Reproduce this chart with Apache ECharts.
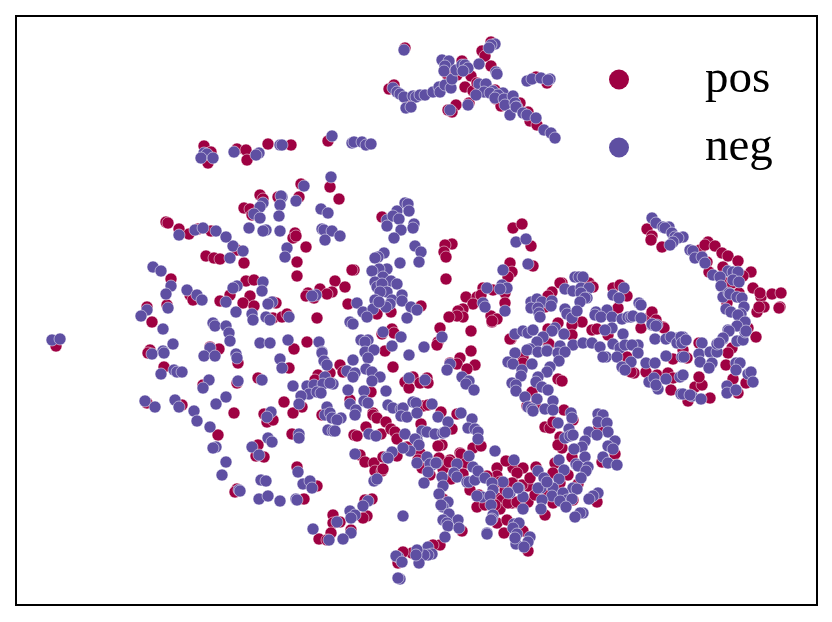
<!DOCTYPE html>
<html>
<head>
<meta charset="utf-8">
<script src="https://cdn.jsdelivr.net/npm/echarts@6/dist/echarts.min.js"></script>
<style>
html, body { margin: 0; padding: 0; background: #fff; }
#main { width: 832px; height: 622px; }
</style>
</head>
<body>
<div id="main"></div>
<script>
var seriesNames = ['pos', 'neg'];

// values
var posPoints = [
[204,146],[211,152],[208,163],[237,149],[246,150],[247,160],[268,144],[291,145],[328,141],[405,48],[389,89],[394,85],[408,102],[409,103],
[456,105],[452,112],[448,110],[469,103],[462,61],[447,74],[453,70],[471,76],[457,75],[465,87],[473,91],[477,83],[495,90],[496,99],[501,106],
[520,103],[528,112],[530,121],[537,125],[491,42],[482,51],[485,56],[491,66],[536,77],[547,83],[301,184],[330,187],[339,199],
[260,195],[263,199],[278,197],[299,197],[244,208],[250,209],[252,215],[295,233],[293,238],[296,236],[306,247],[237,250],[244,263],[297,262],[297,276],
[246,281],[254,280],[230,295],[250,296],[243,303],[254,306],[273,302],[276,303],[273,318],[282,317],[287,314],[354,270],[352,270],
[335,281],[345,287],[320,289],[332,292],[327,294],[308,293],[306,296],[314,298],[317,318],[382,217],[348,304],[391,312],[377,314],[421,306],
[166,222],[168,223],[179,229],[189,234],[198,229],[211,231],[206,256],[214,258],[220,259],[171,279],[190,295],[193,300],[220,301],[167,305],[147,307],[152,322],[210,347],[219,349],[150,350],[56,346],
[148,353],[294,349],[307,342],[238,363],[289,368],[164,367],[258,378],[237,383],[203,385],[318,375],[315,380],[284,402],[302,407],[293,413],[147,403],[182,405],[234,413],[322,415],[264,414],[267,422],[273,420],
[218,435],[292,434],[258,445],[256,456],[264,457],[297,467],[317,486],[237,489],[235,492],[304,499],[360,455],[365,462],[374,463],[375,471],[382,471],[383,457],[372,499],[365,500],[367,516],[363,518],[333,515],[340,522],[333,523],[331,533],[351,530],[319,539],[327,540],
[392,329],[394,333],[382,334],[385,351],[440,328],[438,342],[437,345],[471,331],[471,351],[492,322],[340,365],[343,372],[393,367],[450,363],[460,358],[457,364],[475,365],[467,369],
[413,377],[405,382],[409,388],[427,378],[420,383],[428,383],[330,373],[371,392],[350,400],[423,406],[428,405],[441,412],[373,413],[373,415],[377,418],[386,422],[354,435],[357,436],[366,427],[381,434],
[391,429],[395,432],[397,439],[421,424],[452,429],[457,414],[473,448],[481,446],[460,453],[450,460],[442,445],[438,446],[407,447],[397,456],[383,469],[420,453],[418,460],[438,460],[443,468],[497,468],[513,468],[511,339],[523,357],
[513,228],[522,224],[531,246],[452,244],[445,245],[444,252],[446,257],[446,279],[510,263],[533,266],[512,272],[508,277],[483,288],[493,290],[505,293],[466,297],[477,297],[481,295],[473,304],[505,303],
[463,309],[458,311],[463,317],[457,316],[449,317],[491,316],[497,319],[492,321],[510,339],[552,292],[548,296],[545,307],[562,283],[560,283],[589,283],[593,287],[613,288],[620,285],[627,296],[618,308],
[582,322],[572,325],[558,323],[592,330],[597,329],[608,335],[548,329],[572,335],[548,343],[641,328],[663,327],[683,350],[549,344],[523,363],[558,379],[562,381],[532,392],[527,406],[535,405],[564,410],
[627,357],[634,373],[631,372],[646,372],[673,359],[687,358],[657,375],[668,373],[673,378],[671,390],[688,401],[695,387],[702,385],[710,398],[699,377],[756,337],[732,348],[728,353],[726,365],[733,379],[746,383],[738,393],
[573,420],[545,427],[550,428],[553,422],[560,437],[599,427],[562,448],[572,457],[615,454],[602,462],[555,463],[523,468],[517,473],[536,467],[553,473],[568,475],[578,484],[560,483],[528,486],[522,485],[513,483],[553,503],[573,500],[528,502],[518,503],[545,515],[512,503],[597,502],
[422,468],[430,475],[439,458],[443,469],[449,462],[461,454],[466,463],[451,479],[506,461],[497,476],[512,483],[500,482],[479,495],[477,507],[497,498],[502,500],[500,509],[508,503],[517,502],
[487,476],[505,490],[495,505],[530,478],[548,495],[470,490],[463,474],[485,505],[535,495],[558,445],
[443,499],[462,531],[440,545],[433,545],[412,553],[403,552],[398,563],[497,523],[504,533],[507,520],[523,531],[528,551],
[647,229],[652,236],[651,240],[662,247],[700,250],[708,242],[705,245],[715,246],[722,253],[728,256],[738,261],[707,262],[723,267],[751,272],[709,272],[743,276],[727,283],[732,283],[739,293],[753,288],[761,297],[760,293],[772,294],[781,293],[764,307],[757,312],[759,307],[780,307],[779,308],[727,303],[748,328],[699,343],
[650,317],[652,312],[656,320],[664,328]
];

var negPoints = [
[204,153],[207,154],[201,158],[213,158],[234,152],[259,153],[256,155],[280,145],[282,145],[332,136],[352,143],[354,142],[362,142],[366,145],[371,144],[404,50],
[393,88],[397,92],[400,94],[404,97],[413,96],[416,97],[420,95],[425,95],[433,92],[439,87],[440,92],[445,85],[451,88],[452,79],[406,108],[411,107],[450,110],[468,105],
[442,60],[449,61],[445,66],[444,71],[456,70],[462,65],[465,65],[468,68],[463,71],[479,84],[486,84],[484,92],[476,95],[493,91],[490,93],[503,93],[498,95],[495,98],[504,99],[505,105],[513,96],[510,115],[515,103],[517,107],[516,107],[523,113],[527,115],[536,118],[544,130],[551,133],[555,138],
[495,44],[491,45],[489,48],[479,64],[496,72],[497,74],[527,81],[532,79],[541,78],[550,79],[548,80],[304,186],[331,177],[296,201],[282,197],
[281,196],[263,203],[260,207],[280,205],[254,214],[260,218],[279,216],[321,209],[328,213],[249,228],[266,230],[263,231],[280,231],[322,229],[324,230],[332,231],[340,236],[325,240],
[287,248],[285,257],[233,246],[243,251],[230,258],[263,282],[262,291],[237,286],[233,288],[272,302],[268,304],[236,312],[252,314],[253,320],[266,317],[289,317],[270,320],[316,295],[312,296],
[405,203],[408,204],[397,211],[409,211],[387,220],[393,216],[399,219],[387,226],[414,224],[413,228],[401,230],[394,238],[415,246],[421,252],[400,263],[419,262],
[384,253],[378,257],[375,258],[387,269],[379,269],[372,271],[383,277],[375,282],[391,281],[397,284],[377,287],[382,284],[387,292],[380,292],[402,295],[375,300],[392,300],[402,301],[390,304],[386,307],[357,303],[363,312],[373,309],[367,317],[379,302],[411,307],[417,310],[407,318],
[179,235],[195,230],[203,228],[216,231],[226,237],[153,267],[161,271],[171,286],[166,294],[187,290],[197,295],[202,300],[226,302],[168,308],[147,310],[141,316],[163,329],[213,323],[215,326],[226,326],[229,333],[230,341],[173,344],[210,348],[163,351],[52,340],[60,339],
[152,354],[164,353],[204,356],[215,356],[260,343],[270,343],[288,340],[319,342],[236,354],[237,358],[280,359],[282,368],[322,352],[322,353],[324,361],[327,365],[161,374],[174,370],[177,372],[182,372],
[262,380],[238,381],[209,380],[203,388],[293,386],[325,377],[307,386],[314,385],[323,384],[309,394],[301,396],[317,392],[321,393],[226,397],[216,404],[299,404],[145,401],[155,407],[175,400],[179,407],[194,411],[197,421],[327,407],[325,415],
[271,412],[267,417],[210,427],[216,447],[213,448],[299,434],[299,438],[268,438],[272,442],[252,447],[259,455],[328,430],[226,462],[222,475],[298,472],[261,480],[266,481],[303,484],[310,481],[239,490],
[240,491],[259,499],[268,496],[280,501],[296,499],[297,500],[312,488],[355,454],[387,457],[374,481],[377,479],[368,501],[363,506],[350,511],[355,515],[351,518],[337,522],[313,529],[351,533],[343,539],[329,540],
[350,322],[353,324],[383,332],[401,337],[392,346],[409,355],[424,347],[442,337],[361,340],[368,340],[365,342],[365,352],[374,350],[368,358],[353,360],[347,371],[355,373],[353,377],[366,369],[372,372],[380,377],[372,381],
[450,364],[447,370],[462,377],[469,381],[466,384],[474,390],[409,378],[425,380],[333,384],[330,383],[348,390],[364,391],[386,391],[350,404],[356,410],[355,415],[364,401],[368,403],[388,405],[393,408],[401,409],[403,408],[401,416],[407,417],[413,402],[416,403],[417,413],[432,404],[330,413],[332,418],[341,418],[337,420],[333,431],[335,431],[369,434],[376,436],
[405,434],[422,431],[427,432],[438,417],[448,422],[435,434],[443,433],[445,432],[461,413],[472,419],[468,428],[475,429],[478,432],[478,439],[495,451],[469,456],[417,440],[415,439],[419,445],[410,451],[403,448],[392,452],[388,458],[417,463],[427,457],[432,465],[437,463],
[515,334],[523,331],[528,333],[515,353],[508,362],[513,364],[522,370],[521,376],[512,383],[516,385],[516,391],[525,397],[528,407],
[487,288],[502,285],[507,288],[500,289],[483,303],[485,307],[505,311],[516,242],[526,239],[528,264],[503,270],[533,330],
[531,302],[537,299],[542,302],[552,301],[551,306],[531,308],[538,308],[539,313],[540,317],[565,289],[573,291],[575,277],[579,277],[583,277],[581,288],[589,288],[581,293],[587,298],[585,298],[580,302],[624,288],[613,295],[619,298],
[565,309],[567,314],[572,318],[577,311],[596,312],[595,315],[607,310],[601,317],[612,317],[622,319],[628,317],[612,328],[623,334],[555,328],[552,331],[543,337],[564,334],[537,342],[560,346],[573,345],[583,343],[592,343],[600,347],[613,344],[620,348],[625,345],[547,350],[530,349],
[638,345],[632,345],[605,330],[657,325],[652,325],[655,339],[666,339],[678,338],[683,337],[681,343],[638,353],[527,350],[538,352],[547,351],[558,353],[565,352],[559,361],[532,364],[550,367],[547,372],[538,377],[536,382],[542,387],[548,390],[537,399],[532,409],[533,411],[545,409],[553,401],[553,410],
[606,357],[603,357],[617,357],[631,362],[622,367],[625,370],[646,363],[655,363],[666,356],[682,357],[684,357],[649,382],[654,378],[658,389],[656,385],[666,379],[680,377],[683,375],[681,394],[683,394],[692,396],[690,395],[701,399],
[702,343],[699,354],[700,362],[710,352],[717,352],[717,344],[723,339],[728,330],[737,341],[743,340],[745,332],[745,322],[740,325],[712,363],[709,368],[736,363],[740,363],[736,370],[748,374],[751,372],[753,382],[727,386],[727,393],[736,390],
[571,413],[572,418],[558,423],[569,429],[565,438],[570,436],[573,435],[598,414],[603,415],[598,422],[607,423],[589,432],[608,432],[597,435],[615,441],[585,441],[582,447],[608,446],[613,449],[574,449],[585,457],[603,457],[608,463],[617,465],[576,464],[578,466],[588,467],[586,471],[559,460],[564,470],[538,471],[559,479],[581,478],[544,478],
[573,488],[577,489],[553,488],[541,488],[538,488],[547,482],[519,488],[523,497],[552,496],[563,493],[567,500],[560,501],[542,500],[572,499],[566,507],[523,509],[541,509],[510,493],[583,513],[580,513],[575,517],[598,493],[593,496],[589,499],
[430,464],[436,463],[428,472],[424,483],[442,477],[443,486],[457,464],[454,473],[457,477],[467,482],[469,482],[475,480],[473,467],[478,471],[485,478],[514,460],[503,482],[492,483],[518,488],[493,490],[508,493],[482,497],[490,496],[477,496],[491,505],
[439,494],[448,502],[443,507],[441,505],[449,514],[458,520],[443,520],[447,523],[448,526],[459,528],[445,537],[428,547],[432,554],[428,555],[424,555],[419,563],[417,550],[416,555],[398,557],[396,556],[402,562],[400,579],[398,578],[403,516],
[493,515],[492,519],[491,520],[487,533],[487,534],[514,524],[519,523],[513,528],[517,534],[530,537],[528,542],[516,544],[524,547],[515,538],
[652,218],[656,223],[663,227],[669,227],[665,228],[672,233],[675,237],[683,237],[678,238],[673,242],[670,245],[690,250],[693,251],[695,258],[702,257],[705,263],[728,271],[733,272],[738,272],[713,275],[720,277],[733,280],[739,282],[721,286],[723,297],[729,293],[730,294],[737,297],[742,298],
[726,309],[731,312],[744,307],[741,314],[738,315],[745,322],[737,326],[746,331],[729,331],[723,338],[719,343],[639,303],[641,305],[631,317],[633,316],[641,318],[652,324],[656,326],[671,337],[677,343],[681,337],[682,343],[686,340]
];

var posColor = '#9e0142';
var negColor = '#5e4fa2';

var myChart = echarts.init(document.getElementById('main'), null, {renderer: 'canvas'});

var option = {
    animation: false,
    backgroundColor: '#fff',
    textStyle: {fontFamily: 'Liberation Serif'},
    grid: {
        show: true,
        left: 16,
        right: 15,
        top: 16,
        height: 589,
        borderColor: '#000',
        borderWidth: 2
    },
    xAxis: {
        type: 'value',
        min: 16,
        max: 817,
        axisLine: {show: false},
        axisTick: {show: false},
        axisLabel: {show: false},
        splitLine: {show: false}
    },
    yAxis: {
        type: 'value',
        inverse: true,
        min: 16,
        max: 605,
        axisLine: {show: false},
        axisTick: {show: false},
        axisLabel: {show: false},
        splitLine: {show: false}
    },
    legend: {
        orient: 'vertical',
        left: 604,
        top: 51,
        icon: 'circle',
        itemWidth: 20,
        itemHeight: 20,
        itemGap: 21,
        data: seriesNames,
        itemStyle: {borderWidth: 0},
        textStyle: {
            fontFamily: 'Liberation Serif',
            fontSize: 47,
            color: '#000',
            padding: [0, 0, 0, 71]
        }
    },
    series: [
        {
            name: seriesNames[0],
            type: 'scatter',
            data: posPoints,
            symbolSize: 12,
            itemStyle: {color: posColor, borderColor: '#fff', borderWidth: 0.5, opacity: 1}
        },
        {
            name: seriesNames[1],
            type: 'scatter',
            data: negPoints,
            symbolSize: 12,
            itemStyle: {color: negColor, borderColor: '#fff', borderWidth: 0.5, opacity: 1}
        }
    ]
};

option && myChart.setOption(option);
</script>
</body>
</html>
